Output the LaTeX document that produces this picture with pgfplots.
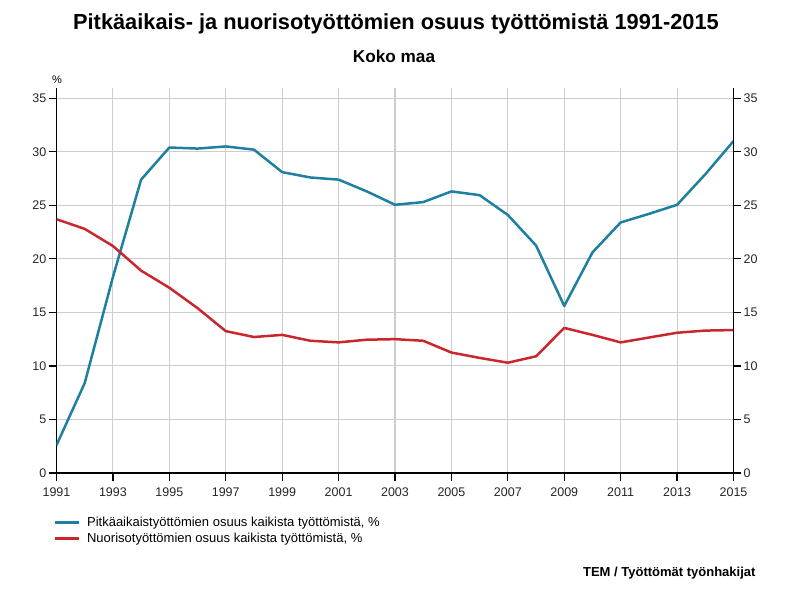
\documentclass[border=0pt]{standalone}
\usepackage{pgfplots}
\pgfplotsset{compat=1.18}
\usepackage{fontspec}
\setmainfont{Liberation Sans}
\definecolor{cblue}{RGB}{30,128,160}
\definecolor{cred}{RGB}{200,40,45}
\definecolor{cgrid}{RGB}{205,205,205}
\pgfplotstableread{
year long young
1991 2.6 23.7
1992 8.4 22.8
1993 18.3 21.2
1994 27.4 18.9
1995 30.4 17.3
1996 30.3 15.4
1997 30.5 13.25
1998 30.2 12.7
1999 28.1 12.9
2000 27.6 12.35
2001 27.4 12.2
2002 26.3 12.45
2003 25.05 12.5
2004 25.3 12.35
2005 26.3 11.25
2006 25.95 10.75
2007 24.1 10.3
2008 21.25 10.9
2009 15.6 13.55
2010 20.6 12.9
2011 23.4 12.2
2012 24.2 12.65
2013 25.05 13.1
2014 27.9 13.3
2015 31.0 13.35
}\data
\begin{document}
\begin{tikzpicture}[x=1pt,y=1pt]
\path[use as bounding box] (0,0) rectangle (790,592);
\pgfplotsset{
  common/.style={
    at={(56.5pt,119pt)}, anchor=south west, scale only axis,
    width=677pt, height=384.7pt,
    xmin=1991, xmax=2015, ymin=0, ymax=35.93,
    ytick={0,5,...,35},
    tick align=outside, major tick length=8pt,
    tick style={black, line width=1.2pt},
    axis line style={black, line width=1.4pt, -},
    /pgf/number format/assume math mode=true,
    ticklabel style={font=\fontsize{12.5}{14}\selectfont, text=black!85},
  }
}
\begin{axis}[common,
  axis x line*=bottom, axis y line*=left,
  xtick={1991,1993,...,2015},
  x tick label style={/pgf/number format/1000 sep={}, yshift=-3pt},
  y tick label style={inner sep=2pt},
  grid=major, grid style={cgrid, line width=1.1pt},
  legend style={at={(-0.009,-0.104)}, anchor=north west, draw=none, fill=none,
    font=\fontsize{13}{15}\selectfont, row sep=2.5pt, column sep=5pt,
    nodes={inner sep=1.5pt}},
  legend cell align=left,
  legend image code/.code={\draw[line width=3pt] (0pt,0pt) -- (24pt,0pt);},
]
\addplot[cblue, line width=2.5pt, line join=round] table[x=year, y=long] {\data};
\addlegendentry{Pitkäaikaistyöttömien osuus kaikista työttömistä, \%}
\addplot[cred, line width=2.5pt, line join=round] table[x=year, y=young] {\data};
\addlegendentry{Nuorisotyöttömien osuus kaikista työttömistä, \%}
\end{axis}
\begin{axis}[common,
  axis x line=none, axis y line*=right,
  y tick label style={inner sep=2pt},
]
\addplot[draw=none] coordinates {(1991,0)};
\end{axis}
\node[font=\fontsize{21.8}{26}\selectfont\bfseries] at (396,568) {Pitkäaikais- ja nuorisotyöttömien osuus työttömistä 1991-2015};
\node[font=\fontsize{17.2}{20}\selectfont\bfseries] at (394,536) {Koko maa};
\node[font=\fontsize{11}{12}\selectfont] at (57,512) {\%};
\node[font=\fontsize{13}{15}\selectfont\bfseries, anchor=east] at (759,19) {TEM / Työttömät työnhakijat};
\end{tikzpicture}
\end{document}
